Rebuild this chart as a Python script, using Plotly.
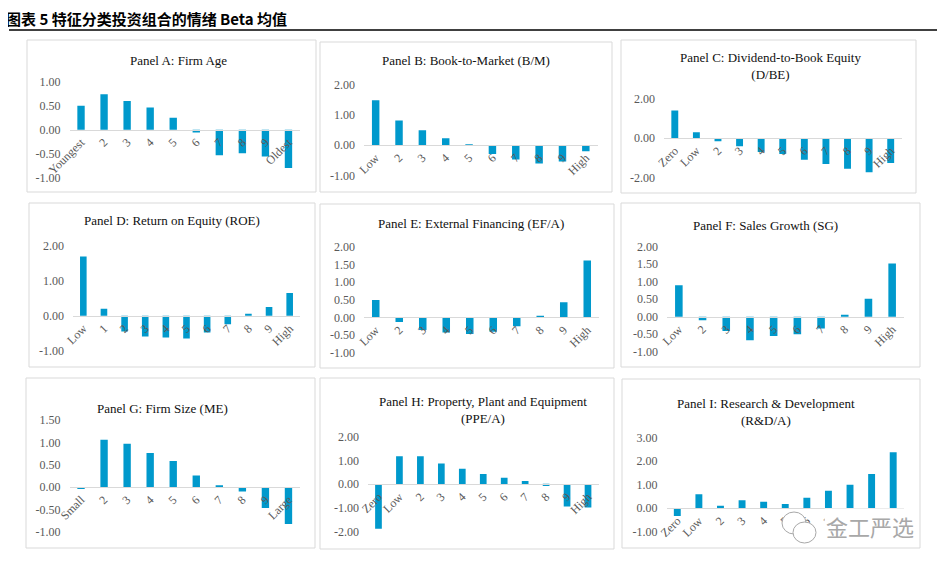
import plotly.graph_objects as go

# page offset (default body margin) compensation
OFF = 8
W, H = 945 - OFF, 570 - OFF

# ---------------- data ----------------
titles = [
    "Panel A: Firm Age",
    "Panel B: Book-to-Market (B/M)",
    "Panel C: Dividend-to-Book Equity<br>(D/BE)",
    "Panel D: Return on Equity (ROE)",
    "Panel E: External Financing (EF/A)",
    "Panel F: Sales Growth (SG)",
    "Panel G: Firm Size (ME)",
    "Panel H: Property, Plant and Equipment<br>(PPE/A)",
    "Panel I: Research & Development<br>(R&D/A)",
]

cats_age = ["Youngest", "2", "3", "4", "5", "6", "7", "8", "9", "Oldest"]
vals_age = [0.50, 0.74, 0.60, 0.46, 0.25, -0.06, -0.53, -0.49, -0.56, -0.80]

cats_bm = ["Low", "2", "3", "4", "5", "6", "7", "8", "9", "High"]
vals_bm = [1.48, 0.81, 0.49, 0.23, 0.01, -0.29, -0.47, -0.60, -0.53, -0.20]

cats_dbe = ["Zero", "Low", "2", "3", "4", "5", "6", "7", "8", "9", "High"]
vals_dbe = [1.39, 0.29, -0.17, -0.42, -0.71, -0.81, -1.09, -1.31, -1.55, -1.73, -1.26]

cats_roe = ["Low", "1", "2", "3", "4", "5", "6", "7", "8", "9", "High"]
vals_roe = [1.70, 0.20, -0.45, -0.59, -0.62, -0.65, -0.48, -0.24, 0.06, 0.25, 0.65]

cats_ef = ["Low", "2", "3", "4", "5", "6", "7", "8", "9", "High"]
vals_ef = [0.49, -0.13, -0.36, -0.43, -0.47, -0.41, -0.25, 0.04, 0.43, 1.61]

cats_sg = ["Low", "2", "3", "4", "5", "6", "7", "8", "9", "High"]
vals_sg = [0.90, -0.10, -0.41, -0.67, -0.55, -0.50, -0.34, 0.04, 0.51, 1.52]

cats_me = ["Small", "2", "3", "4", "5", "6", "7", "8", "9", "Large"]
vals_me = [-0.03, 1.06, 0.97, 0.76, 0.58, 0.26, 0.04, -0.10, -0.47, -0.83]

cats_ppe = ["Zero", "Low", "2", "3", "4", "5", "6", "7", "8", "9", "High"]
vals_ppe = [-1.88, 1.18, 1.18, 0.87, 0.65, 0.43, 0.27, 0.14, -0.08, -0.94, -0.98]

cats_rd = ["Zero", "Low", "2", "3", "4", "5", "6", "7", "8", "9", "High"]
vals_rd = [-0.33, 0.59, 0.10, 0.34, 0.27, 0.18, 0.45, 0.74, 1.00, 1.46, 2.38]

categories = [cats_age, cats_bm, cats_dbe, cats_roe, cats_ef, cats_sg, cats_me, cats_ppe, cats_rd]
values = [vals_age, vals_bm, vals_dbe, vals_roe, vals_ef, vals_sg, vals_me, vals_ppe, vals_rd]

y_ranges = [(-1, 1), (-1, 2), (-2, 2), (-1, 2), (-1, 2), (-1, 2), (-1, 1.5), (-2, 2), (-1, 3)]
y_dticks = [0.5, 1, 2, 1, 0.5, 0.5, 0.5, 1, 1]

# ---------------- layout geometry (page pixels) ----------------
plot_x = [(69.5, 300), (364, 597.5), (664, 901.5), (73, 300), (364, 599),
          (667, 904), (69.5, 300), (368, 598.5), (666.5, 904)]
plot_y = [(81.7, 177.7), (84.3, 175.7), (98.3, 177.7), (246, 350.7), (246.7, 352.7),
          (246.7, 351.7), (420, 531.7), (436.7, 531.7), (437.7, 531.7)]
title_pos = [(178, 60), (466, 60), (770, 66), (172, 221), (471, 223),
             (765, 226), (162, 408), (483, 410), (766, 412)]
boxes = [(27, 40, 316, 192), (320, 42, 612, 192), (621, 40, 916, 193),
         (29, 203, 315, 367), (320, 204, 614, 368), (621, 203, 920, 367),
         (26, 378, 315, 548), (320, 378, 614, 549), (622, 379, 920, 548)]

BAR = "#0099CC"
SERIF = "Liberation Serif"
TICK_COL = "#595959"


def fx(px):
    return (px - OFF) / W


def fy(py):
    return 1 - (py - OFF) / H


fig = go.Figure()
layout = dict(
    template="none",
    width=W, height=H, margin=dict(l=0, r=0, t=0, b=0, autoexpand=False),
    paper_bgcolor="white", plot_bgcolor="rgba(0,0,0,0)",
    showlegend=False, bargap=0.68,
    font=dict(family=SERIF, size=11, color=TICK_COL),
)
shapes = []
annotations = []

for i in range(9):
    k = i + 1
    xs = "x" if k == 1 else f"x{k}"
    ys = "y" if k == 1 else f"y{k}"
    fig.add_trace(go.Bar(x=categories[i], y=values[i], xaxis=xs, yaxis=ys,
                         marker=dict(color=BAR, line=dict(width=0))))
    y0, y1 = fy(plot_y[i][1]), fy(plot_y[i][0])
    rmin, rmax = y_ranges[i]
    zero_pos = y0 + (0 - rmin) / (rmax - rmin) * (y1 - y0)
    n = len(categories[i])
    layout["xaxis" if k == 1 else f"xaxis{k}"] = dict(
        domain=[fx(plot_x[i][0]), fx(plot_x[i][1])],
        anchor="free", position=zero_pos, automargin=False,
        type="category", range=[-0.5, n - 0.5],
        showline=True, linecolor="#d9d9d9", linewidth=1,
        ticks="", showgrid=False, zeroline=False,
        tickangle=-45, tickfont=dict(family=SERIF, size=12, color=TICK_COL),
        fixedrange=True,
    )
    tv = []
    v = rmin
    while v <= rmax + 1e-9:
        tv.append(round(v, 4))
        v += y_dticks[i]
    layout["yaxis" if k == 1 else f"yaxis{k}"] = dict(
        domain=[y0, y1], anchor=xs, range=[rmin, rmax], automargin=False,
        tickvals=tv, ticktext=[f"{t:.2f}" for t in tv],
        showline=False, showgrid=False, zeroline=False, ticks="",
        ticklabelstandoff=8,
        tickfont=dict(family=SERIF, size=12, color=TICK_COL),
        fixedrange=True,
    )
    bx0, by0, bx1, by1 = boxes[i]
    shapes.append(dict(type="rect", xref="paper", yref="paper",
                       x0=fx(bx0), x1=fx(bx1), y0=fy(by1), y1=fy(by0),
                       line=dict(color="#d9d9d9", width=1), fillcolor="rgba(0,0,0,0)",
                       layer="below"))
    tx, ty = title_pos[i]
    annotations.append(dict(text=titles[i], xref="paper", yref="paper",
                            x=fx(tx), y=fy(ty), xanchor="center", yanchor="middle",
                            showarrow=False,
                            font=dict(family=SERIF, size=13, color="#111111")))

# header
annotations.append(dict(text="<b>图表 5 特征分类投资组合的情绪 Beta 均值</b>",
                        xref="paper", yref="paper", x=fx(5), y=fy(19),
                        xanchor="left", yanchor="middle", showarrow=False, borderpad=0,
                        font=dict(family="Noto Sans CJK SC", size=15, color="#000000")))
shapes.append(dict(type="line", xref="paper", yref="paper",
                   x0=fx(9), x1=fx(945), y0=fy(30), y1=fy(30),
                   line=dict(color="#000000", width=1.5)))

# watermark
annotations.append(dict(text="金工严选", xref="paper", yref="paper",
                        x=fx(870), y=fy(526), xanchor="center", yanchor="middle",
                        showarrow=False, bgcolor="white",
                        font=dict(family="Noto Sans CJK SC", size=22, color="#a8a8a8")))
shapes.append(dict(type="circle", xref="paper", yref="paper",
                   x0=fx(782), x1=fx(806), y0=fy(534), y1=fy(512),
                   line=dict(color="#a8a8a8", width=1), fillcolor="white"))
shapes.append(dict(type="circle", xref="paper", yref="paper",
                   x0=fx(793), x1=fx(816), y0=fy(543), y1=fy(522),
                   line=dict(color="#a8a8a8", width=1), fillcolor="white"))

layout["shapes"] = shapes
layout["annotations"] = annotations
fig.update_layout(**layout)
fig.write_html("out.html")
